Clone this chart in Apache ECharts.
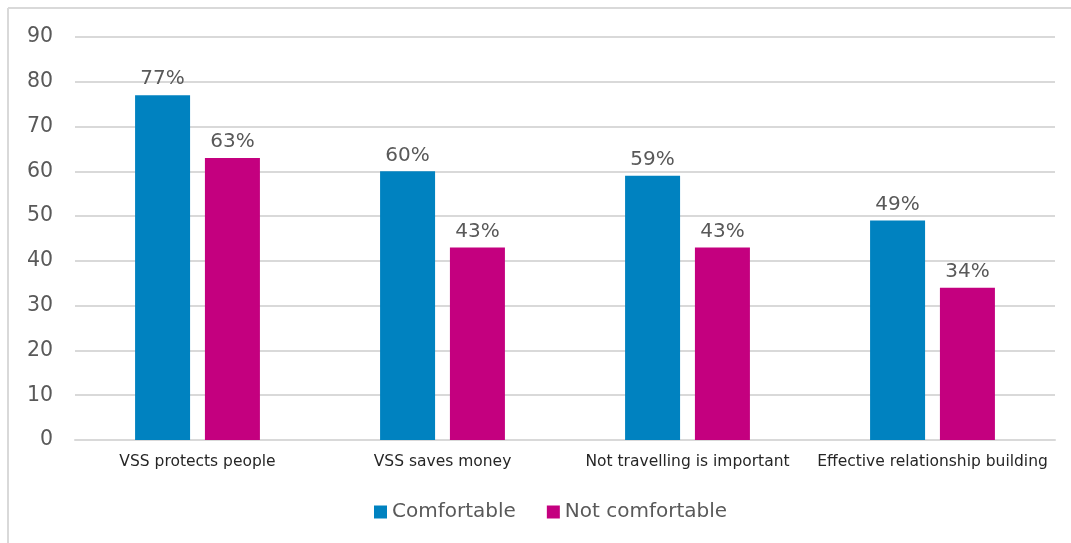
<!DOCTYPE html>
<html><head><meta charset="utf-8">
<script src="https://cdn.jsdelivr.net/npm/echarts@6/dist/echarts.min.js"></script>
<style>html,body{margin:0;padding:0;background:#fff}#c{width:1071px;height:543px}</style>
</head><body><div id="c"></div>
<script>
const categories = ["VSS protects people", "VSS saves money", "Not travelling is important", "Effective relationship building"];
const comfortable = [77, 60, 59, 49];
const notComfortable = [63, 43, 43, 34];
const seriesNames = ["Comfortable", "Not comfortable"];

const chart = echarts.init(document.getElementById('c'));
const font = "DejaVu Sans";
chart.setOption({
  animation: false,
  graphic: [
    {type: 'line', shape: {x1: 8, y1: 8, x2: 1071, y2: 8}, style: {stroke: '#d9d9d9', lineWidth: 2}},
    {type: 'line', shape: {x1: 8, y1: 8, x2: 8, y2: 543}, style: {stroke: '#d9d9d9', lineWidth: 2}}
  ],
  grid: {left: 75, right: 16, top: 37, bottom: 103, containLabel: false},
  legend: {
    data: seriesNames, bottom: 16, left: 369, itemWidth: 13, itemHeight: 13, itemGap: 31,
    icon: 'rect',
    textStyle: {fontFamily: font, fontSize: 20, color: '#595959'}
  },
  xAxis: {
    type: 'category', data: categories,
    axisLine: {lineStyle: {color: '#d9d9d9', width: 2}},
    axisTick: {show: false},
    axisLabel: {fontFamily: font, fontSize: 15.5, color: '#262626', margin: 14, interval: 0}
  },
  yAxis: {
    type: 'value', min: 0, max: 90, interval: 10,
    axisLine: {show: false}, axisTick: {show: false},
    splitLine: {lineStyle: {color: '#d9d9d9', width: 2}},
    axisLabel: {fontFamily: font, fontSize: 20.5, color: '#595959', margin: 22}
  },
  series: [
    {name: seriesNames[0], type: 'bar', data: comfortable, barWidth: 55, barGap: '27%',
     itemStyle: {color: '#0082C0'},
     label: {show: true, position: 'top', distance: 6, formatter: '{c}%', fontFamily: font, fontSize: 20, color: '#595959'}},
    {name: seriesNames[1], type: 'bar', data: notComfortable, barWidth: 55,
     itemStyle: {color: '#C4007F'},
     label: {show: true, position: 'top', distance: 6, formatter: '{c}%', fontFamily: font, fontSize: 20, color: '#595959'}}
  ]
});
</script></body></html>
